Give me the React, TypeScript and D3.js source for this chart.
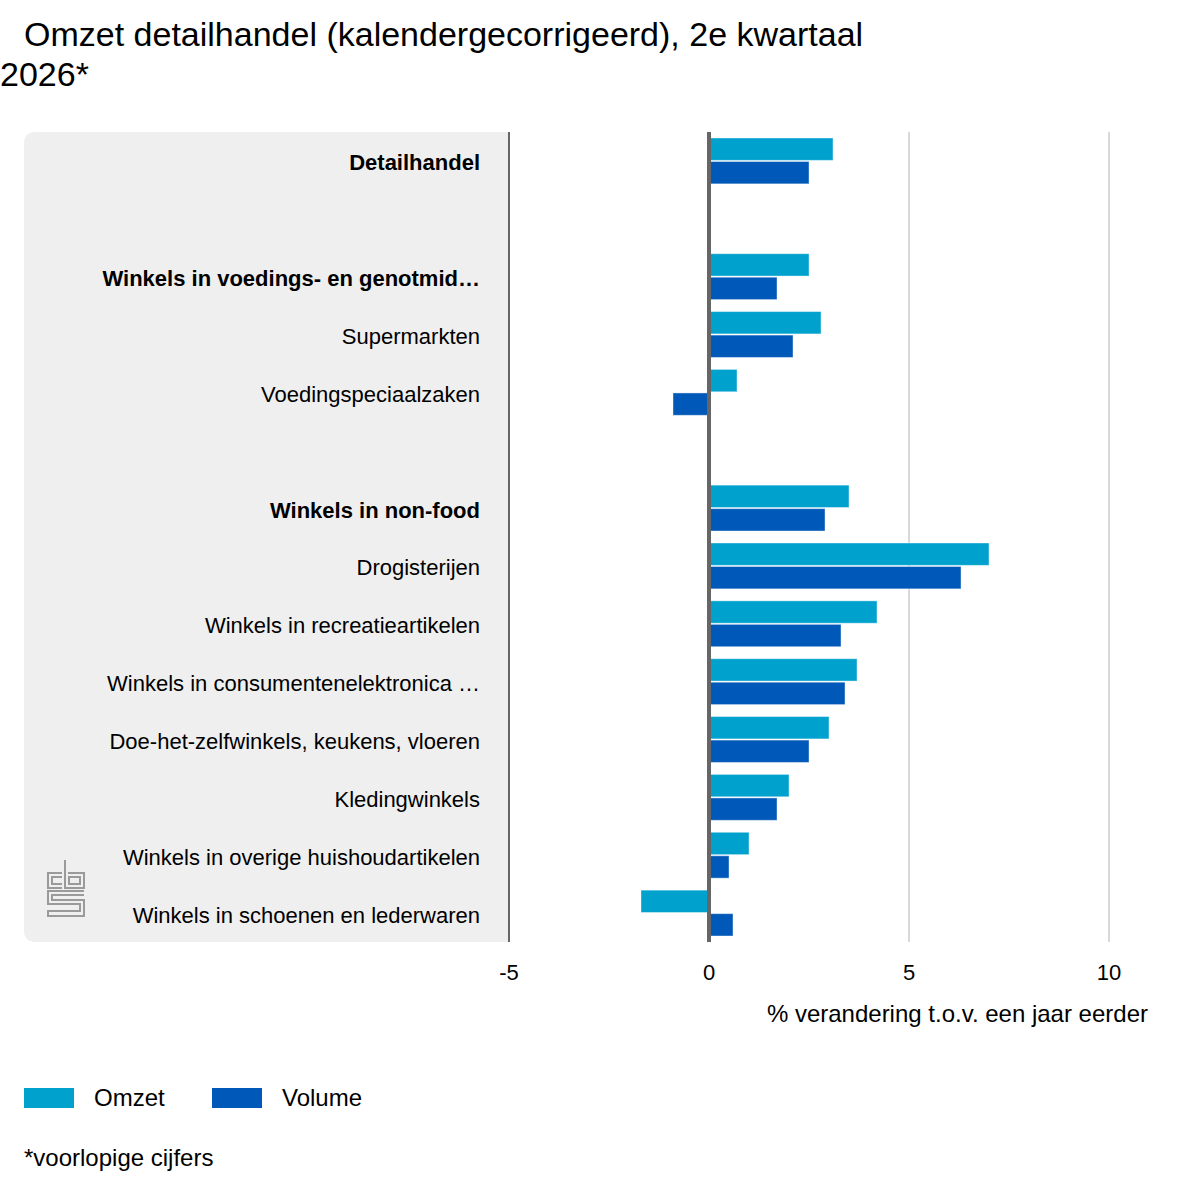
import React from 'react';
import * as d3 from 'd3';

const categories: string[] = [
  'Detailhandel',
  '',
  'Winkels in voedings- en genotmid…',
  'Supermarkten',
  'Voedingspeciaalzaken',
  '',
  'Winkels in non-food',
  'Drogisterijen',
  'Winkels in recreatieartikelen',
  'Winkels in consumentenelektronica …',
  'Doe-het-zelfwinkels, keukens, vloeren',
  'Kledingwinkels',
  'Winkels in overige huishoudartikelen',
  'Winkels in schoenen en lederwaren',
];
const boldRows: string[] = ['Detailhandel', 'Winkels in voedings- en genotmid…', 'Winkels in non-food'];

const omzet: (number | null)[] = [3.1, null, 2.5, 2.8, 0.7, null, 3.5, 7.0, 4.2, 3.7, 3.0, 2.0, 1.0, -1.7];
const volume: (number | null)[] = [2.5, null, 1.7, 2.1, -0.9, null, 2.9, 6.3, 3.3, 3.4, 2.5, 1.7, 0.5, 0.6];

const seriesKeys = ['Omzet', 'Volume'];
const seriesColors = ['#00a1cd', '#0058b8'];
const xTicks = [-5, 0, 5, 10];

const font = '"Liberation Sans", Arial, sans-serif';

const App: React.FC = () => {
  const width = 1200;
  const height = 1200;

  const x = d3.scaleLinear().domain([-5, 10]).range([509, 1109]);
  const y = d3.scaleBand<number>().domain(d3.range(categories.length)).range([132, 942]);
  const bw = y.bandwidth();
  const inner = d3.scaleBand<string>().domain(seriesKeys).range([6, bw - 6]).paddingInner(0.05);

  const series = [omzet, volume];

  // grey panel behind the labels, rounded on the left only
  const px0 = 24, px1 = 509, py0 = 132, py1 = 942, r = 12;
  const panel = `M${px1},${py0} H${px0 + r} Q${px0},${py0} ${px0},${py0 + r} V${py1 - r} Q${px0},${py1} ${px0 + r},${py1} H${px1} Z`;

  return (
    <svg width={width} height={height} style={{ position: 'absolute', left: 0, top: 0, background: '#fff' }} fontFamily={font}>
      <text x={24} y={46} fontSize={34} fill="#000">Omzet detailhandel (kalendergecorrigeerd), 2e kwartaal</text>
      <text x={0} y={86} fontSize={34} fill="#000">2026*</text>

      <path d={panel} fill="#efefef" />

      {xTicks.map((t) => (
        <line
          key={t}
          x1={x(t)}
          x2={x(t)}
          y1={132}
          y2={942}
          stroke={t === -5 ? '#666' : '#b3b3b3'}
          strokeWidth={t === -5 ? 2 : 1}
        />
      ))}

      {categories.map((c, i) =>
        c ? (
          <text
            key={i}
            x={480}
            y={y(i)! + bw / 2 + 2}
            textAnchor="end"
            dominantBaseline="central"
            fontSize={22}
            fontWeight={boldRows.includes(c) ? 'bold' : 'normal'}
            fill="#000"
          >
            {c}
          </text>
        ) : null
      )}

      {series.map((vals, s) =>
        vals.map((v, i) =>
          v === null ? null : (
            <rect
              key={`${s}-${i}`}
              x={x(Math.min(0, v))}
              y={y(i)! + inner(seriesKeys[s])!}
              width={Math.abs(x(v) - x(0))}
              height={inner.bandwidth()}
              fill={seriesColors[s]}
              stroke="#ffffff"
              strokeOpacity={0.4}
              strokeWidth={1}
            />
          )
        )
      )}

      <line x1={x(0)} x2={x(0)} y1={132} y2={942} stroke="#666" strokeWidth={4} />

      {xTicks.map((t) => (
        <text key={t} x={x(t)} y={980} textAnchor="middle" fontSize={22} fill="#000">
          {t}
        </text>
      ))}
      <text x={1148} y={1022} textAnchor="end" fontSize={24} fill="#000">% verandering t.o.v. een jaar eerder</text>

      {/* cbs logo */}
      <g fill="none" stroke="#9a9a9a" strokeWidth={2}>
        <path d="M62,873 H48 V888 H62 M62,877 H52 V884 H62" />
        <path d="M65,860 V888 H84 V873 H68 M69,877 V884 H80 V877 Z" />
        <path d="M84,891 H48 V904 H80 V911 H48 V916 H84 V900 H52 V895 H84" />
      </g>

      {seriesKeys.map((k, s) => (
        <g key={k} transform={`translate(${24 + s * 188},1088)`}>
          <rect width={50} height={20} fill={seriesColors[s]} />
          <text x={70} y={9} dominantBaseline="central" fontSize={24} fill="#000">
            {k}
          </text>
        </g>
      ))}

      <text x={24} y={1166} fontSize={24} fill="#000">*voorlopige cijfers</text>
    </svg>
  );
};

export default App;
